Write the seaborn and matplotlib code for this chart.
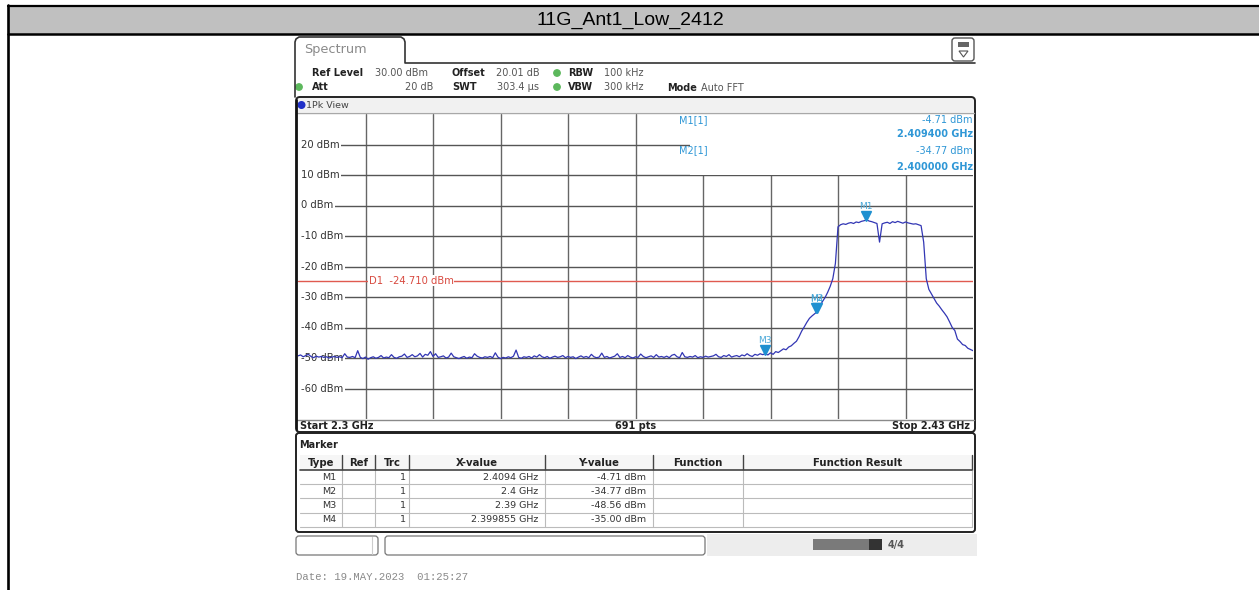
import numpy as np
import pandas as pd
import seaborn as sns
import matplotlib
matplotlib.use("Agg")
import matplotlib.pyplot as plt
from matplotlib.patches import FancyBboxPatch, Rectangle, Circle, Polygon
from matplotlib import transforms as mtransforms

# ---------------- data ----------------
title = "11G_Ant1_Low_2412"
start_mhz, stop_mhz, step_mhz = 2300.0, 2430.0, 0.5
levels_dbm = [
    # 2300 - 2389.5 MHz (noise floor)
    -49.3, -49.0, -49.6, -49.2, -48.8, -49.5, -49.9, -49.4, -49.7, -49.5,
    -49.8, -49.6, -50.0, -49.7, -49.5, -49.8, -49.6, -49.9, -48.6, -49.7,
    -49.8, -49.5, -49.9, -47.6, -49.8, -50.2, -49.7, -50.4, -49.9, -49.6,
    -50.1, -49.8, -49.2, -50.0, -49.7, -49.9, -48.9, -49.8, -50.1, -49.6,
    -49.4, -48.7, -49.8, -49.5, -48.9, -49.6, -49.3, -48.5, -49.7, -48.8,
    -49.1, -47.9, -49.5, -48.6, -49.8, -49.6, -49.3, -50.0, -49.7, -48.4,
    -49.6, -49.9, -50.2, -49.8, -49.5, -50.1, -49.7, -49.9, -48.6, -49.4,
    -49.8, -50.0, -49.6, -49.8, -49.5, -49.9, -48.3, -49.7, -50.2, -49.8,
    -50.0, -49.6, -49.9, -49.4, -47.4, -49.8, -50.1, -49.6, -49.8, -49.5,
    -50.0, -49.3, -49.7, -48.9, -49.6, -49.9, -49.5, -50.1, -49.7, -49.4,
    -49.8, -49.6, -49.2, -49.9, -49.5, -49.8, -49.6, -50.2, -49.7, -49.3,
    -49.8, -49.5, -49.9, -48.8, -49.6, -49.9, -49.7, -48.4, -49.8, -49.5,
    -50.0, -49.7, -49.4, -48.6, -49.8, -49.5, -49.9, -49.2, -49.7, -50.0,
    -49.6, -49.8, -48.7, -49.5, -49.9, -49.6, -49.3, -49.8, -48.9, -49.7,
    -49.5, -49.8, -49.4, -49.9, -49.1, -48.8, -49.6, -49.9, -48.2, -49.6,
    -49.8, -49.5, -49.7, -49.2, -49.9, -49.6, -49.8, -49.4, -49.7, -49.5,
    -49.3, -48.8, -49.6, -49.8, -49.2, -49.5, -48.9, -49.7, -49.4, -49.2,
    -49.6, -49.0, -49.3, -48.6, -49.2, -49.5, -48.8, -49.1, -48.6, -48.9,
    # 2390 - 2430 MHz (signal)
    -48.6, -49.0, -48.3, -48.8, -47.9, -48.2, -47.6, -47.0, -47.3, -46.4,
    -46.0, -45.2, -44.5, -43.0, -41.2, -39.8, -38.3, -37.0, -36.2, -35.5,
    -34.8, -33.2, -31.5, -30.2, -28.5, -26.5, -24.0, -19.0, -7.0, -6.3,
    -6.0, -6.2, -5.8, -5.6, -5.9, -5.4, -5.6, -5.2, -5.0, -4.7,
    -5.1, -5.3, -5.6, -5.9, -12.0, -6.0, -5.7, -5.5, -5.9, -5.3,
    -5.6, -5.2, -5.5, -5.8, -5.4, -5.7, -5.9, -6.1, -6.0, -6.3,
    -6.6, -12.0, -24.0, -27.5, -29.0, -30.5, -32.0, -33.0, -34.2, -35.3,
    -36.5, -38.2, -40.0, -41.0, -43.8, -44.6, -45.6, -45.9, -46.8, -47.2,
    -47.6,
]
ref_level = 30.0
y_bottom = -70.0
grid_levels = [20, 10, 0, -10, -20, -30, -40, -50, -60]
d1_level = -24.71
marker_names = ["M1", "M2", "M3", "M4"]
marker_freq_ghz = [2.4094, 2.4, 2.39, 2.399855]
marker_level = [-4.71, -34.77, -48.56, -35.00]
marker_x_text = ["2.4094 GHz", "2.4 GHz", "2.39 GHz", "2.399855 GHz"]
marker_y_text = ["-4.71 dBm", "-34.77 dBm", "-48.56 dBm", "-35.00 dBm"]

freq_ghz = np.arange(start_mhz, stop_mhz + step_mhz / 2, step_mhz) / 1000.0
df = pd.DataFrame({"freq": freq_ghz, "level": levels_dbm})

# ---------------- figure ----------------
sns.set_theme(style="white")
plt.rcParams["font.family"] = ["DejaVu Sans"]

W, H = 1259, 590
fig = plt.figure(figsize=(W / 100, H / 100), dpi=100, facecolor="white")

def px_rect(l, t, r, b):
    return [l / W, 1 - b / H, (r - l) / W, (b - t) / H]

# plot axes
ax = fig.add_axes(px_rect(298, 114, 973, 419), zorder=1)
ax.set_facecolor("white")
f0, f1 = start_mhz / 1000, stop_mhz / 1000
ax.set_xlim(f0, f1)
ax.set_ylim(y_bottom, ref_level)
for s in ax.spines.values():
    s.set_visible(False)
ax.set_xticks([])
ax.set_yticks([])

grid_col = "#555555"
for k in range(1, 10):
    ax.axvline(f0 + k * (f1 - f0) / 10, color="#666666", lw=1.0, zorder=1)
for g in grid_levels:
    ax.axhline(g, xmin=4 / 675, color=grid_col, lw=1.0, zorder=1)

# overlay axes (pixel coordinates)
bg = fig.add_axes([0, 0, 1, 1], zorder=2)
bg.set_xlim(0, W)
bg.set_ylim(H, 0)
bg.axis("off")
bg.patch.set_alpha(0)

blend = mtransforms.blended_transform_factory(bg.transData, ax.transData)
for g in grid_levels:
    ax.text(301, g, f"{g} dBm", transform=blend, fontsize=7.2, color="#333333",
            va="center", ha="left", zorder=2,
            bbox=dict(facecolor="white", edgecolor="none", pad=1.2))

ax.axhline(d1_level, color="#e05a50", lw=1.0, zorder=2)
ax.text(369, d1_level, "D1  -24.710 dBm", transform=blend, fontsize=7.2,
        color="#d84a40", va="center", ha="left", zorder=2,
        bbox=dict(facecolor="white", edgecolor="none", pad=0.4))

sns.lineplot(data=df, x="freq", y="level", ax=ax, color="#3236b4", lw=0.9,
             zorder=3, legend=False)
ax.set_xlabel("")
ax.set_ylabel("")
ax.set_xlim(f0, f1)
ax.set_ylim(y_bottom, ref_level)
ax.set_xticks([])
ax.set_yticks([])

mk_col = "#1f90d0"
tri_tr = mtransforms.offset_copy(ax.transData, fig=fig, x=0, y=4, units="dots")
lab_tr = mtransforms.offset_copy(ax.transData, fig=fig, x=0, y=13, units="dots")
for name, fx, lv in zip(marker_names, marker_freq_ghz, marker_level):
    ax.plot([fx], [lv], marker="v", ms=6.5, color=mk_col, transform=tri_tr,
            zorder=4, ls="none")
    ax.text(fx, lv, name, transform=lab_tr, fontsize=6.5, color="#4aa8d8",
            ha="center", va="center", zorder=4)

# ---------------- title bar ----------------
bg.add_patch(Rectangle((8, 5), W - 8, 29, facecolor="#c0c0c0", edgecolor="none"))
bg.plot([8, W], [5.5, 5.5], color="black", lw=1.6)
bg.plot([8, W], [33.5, 33.5], color="black", lw=1.8)
bg.plot([8.5, 8.5], [5, H], color="black", lw=1.9)
bg.text(630, 20, title, fontsize=14, ha="center", va="center",
        family=["Liberation Sans", "DejaVu Sans"], color="black")

# ---------------- instrument header ----------------
tab = [(295, 97), (295, 42), (296, 39), (299, 37), (401, 37), (404, 39),
       (405, 42), (405, 63), (975, 63)]
bg.plot([p[0] for p in tab], [p[1] for p in tab], color="#333333", lw=1.2)
bg.text(304, 50, "Spectrum", fontsize=9.3, color="#8a8a8a", ha="left", va="center")

# icon
bg.add_patch(FancyBboxPatch((952, 38), 22, 23, boxstyle="round,pad=0,rounding_size=3",
                            facecolor="white", edgecolor="#555555", lw=1.0))
bg.add_patch(Rectangle((958, 42), 11, 5, facecolor="#666666", edgecolor="none"))
bg.add_patch(Polygon([(959, 51), (968, 51), (963.5, 57)], closed=True,
                     facecolor="white", edgecolor="#555555", lw=0.8))

lab_c, val_c = "#222222", "#555555"
hdr1 = 73
hdr2 = 87
bg.text(312, hdr1, "Ref Level", fontsize=7, weight="bold", color=lab_c, va="center")
bg.text(375, hdr1, "30.00 dBm", fontsize=7, color=val_c, va="center")
bg.text(452, hdr1, "Offset", fontsize=7, weight="bold", color=lab_c, va="center")
bg.text(496, hdr1, "20.01 dB", fontsize=7, color=val_c, va="center")
bg.add_patch(Circle((557, hdr1), 3.2, color="#5cb85c"))
bg.text(568, hdr1, "RBW", fontsize=7, weight="bold", color=lab_c, va="center")
bg.text(604, hdr1, "100 kHz", fontsize=7, color=val_c, va="center")

bg.add_patch(Circle((299, hdr2), 3.2, color="#5cb85c"))
bg.text(312, hdr2, "Att", fontsize=7, weight="bold", color=lab_c, va="center")
bg.text(433, hdr2, "20 dB", fontsize=7, color=val_c, va="center", ha="right")
bg.text(452, hdr2, "SWT", fontsize=7, weight="bold", color=lab_c, va="center")
bg.text(497, hdr2, "303.4 µs", fontsize=7, color=val_c, va="center")
bg.add_patch(Circle((557, hdr2), 3.2, color="#5cb85c"))
bg.text(568, hdr2, "VBW", fontsize=7, weight="bold", color=lab_c, va="center")
bg.text(604, hdr2, "300 kHz", fontsize=7, color=val_c, va="center")
bg.text(667, hdr2 + 1, "Mode", fontsize=7, weight="bold", color=lab_c, va="center")
bg.text(701, hdr2 + 1, "Auto FFT", fontsize=7, color=val_c, va="center")

# ---------------- plot frame ----------------
bg.add_patch(Rectangle((297, 98), 677, 14, facecolor="#f1f1f1", edgecolor="none"))
bg.plot([297, 974], [112.5, 112.5], color="#a8a8a8", lw=1.0)
bg.add_patch(Circle((301.5, 105), 3.3, color="#2030c8"))
bg.text(306, 105, "1Pk View", fontsize=6.8, color="#444444", va="center")

bg.add_patch(Rectangle((297, 419.5), 677, 12, facecolor="white", edgecolor="none"))
bg.plot([297, 974], [420, 420], color="#8a8a8a", lw=1.0)
bg.text(300, 426, "Start 2.3 GHz", fontsize=7, weight="bold", color="#222222", va="center")
bg.text(636, 426, "691 pts", fontsize=7, weight="bold", color="#222222", va="center", ha="center")
bg.text(970, 426, "Stop 2.43 GHz", fontsize=7, weight="bold", color="#222222", va="center", ha="right")

bg.add_patch(FancyBboxPatch((296, 97), 679, 335, boxstyle="round,pad=0,rounding_size=4",
                            facecolor="none", edgecolor="#222222", lw=1.4))
bg.plot([297.2, 297.2], [100, 430], color="#111111", lw=1.3)

# marker info box
bg.add_patch(Rectangle((690, 113), 283, 62, facecolor="white", edgecolor="none"))
info_c = "#2f97d6"
bg.text(679, 120, "M1[1]", fontsize=7, color=info_c, va="center")
bg.text(973, 120, "-4.71 dBm", fontsize=7, color=info_c, va="center", ha="right")
bg.text(973, 134, "2.409400 GHz", fontsize=7, color=info_c, va="center", ha="right", weight="bold")
bg.text(679, 150, "M2[1]", fontsize=7, color=info_c, va="center")
bg.text(973, 151, "-34.77 dBm", fontsize=7, color=info_c, va="center", ha="right")
bg.text(973, 167, "2.400000 GHz", fontsize=7, color=info_c, va="center", ha="right", weight="bold")

# ---------------- marker table ----------------
bg.add_patch(FancyBboxPatch((296, 433), 679, 99, boxstyle="round,pad=0,rounding_size=3",
                            facecolor="white", edgecolor="#222222", lw=1.4))
bg.text(299, 445, "Marker", fontsize=7, weight="bold", color="#222222", va="center")
cols = [300, 342, 375, 409, 545, 653, 743, 972]
heads = ["Type", "Ref", "Trc", "X-value", "Y-value", "Function", "Function Result"]
bg.add_patch(Rectangle((300, 455), 672, 15, facecolor="#f6f6f6", edgecolor="none"))
for i, h in enumerate(heads):
    bg.text((cols[i] + cols[i + 1]) / 2, 462.5, h, fontsize=7.3, weight="bold",
            color="#222222", ha="center", va="center")
for c in cols[1:]:
    bg.plot([c, c], [455, 470], color="#444444", lw=1.0)
    bg.plot([c, c], [470, 527], color="#bbbbbb", lw=0.8)
bg.plot([300, 972], [470, 470], color="#444444", lw=1.2)
for yl in [484, 498, 513, 527]:
    bg.plot([300, 972], [yl, yl], color="#bbbbbb", lw=0.8)
row_y = [477, 491, 505.5, 520]
for ry, nm, xt, yt in zip(row_y, marker_names, marker_x_text, marker_y_text):
    bg.text(336, ry, nm, fontsize=6.8, color="#333333", ha="right", va="center")
    bg.text(406, ry, "1", fontsize=6.8, color="#333333", ha="right", va="center")
    bg.text(538, ry, xt, fontsize=6.8, color="#333333", ha="right", va="center")
    bg.text(646, ry, yt, fontsize=6.8, color="#333333", ha="right", va="center")

# ---------------- status bar ----------------
bg.add_patch(FancyBboxPatch((296, 536), 82, 19, boxstyle="round,pad=0,rounding_size=3",
                            facecolor="white", edgecolor="#777777", lw=0.9))
bg.plot([372, 372], [537, 554], color="#cccccc", lw=0.8)
bg.add_patch(FancyBboxPatch((385, 536), 320, 19, boxstyle="round,pad=0,rounding_size=3",
                            facecolor="white", edgecolor="#777777", lw=0.9))
bg.add_patch(Rectangle((707, 534), 270, 22, facecolor="#ededed", edgecolor="none"))
bg.add_patch(Rectangle((813, 539), 56, 11, facecolor="#7a7a7a", edgecolor="none"))
bg.add_patch(Rectangle((869, 539), 13, 11, facecolor="#333333", edgecolor="none"))
bg.text(896, 545, "4/4", fontsize=7, weight="bold", color="#555555", va="center", ha="center")

bg.text(296, 577, "Date: 19.MAY.2023  01:25:27", fontsize=7.7, color="#8a8a8a",
        va="center", family=["Liberation Mono", "DejaVu Sans Mono"])

fig.savefig("out.png", dpi=100, facecolor="white")
